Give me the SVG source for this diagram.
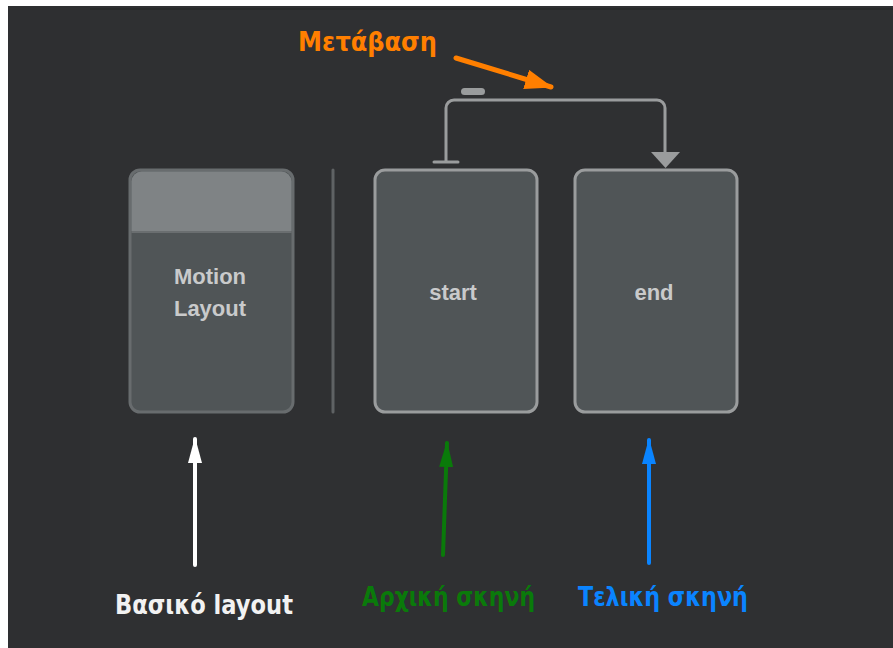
<svg xmlns="http://www.w3.org/2000/svg" width="893" height="648" viewBox="0 0 893 648">
  <style>
    .node { fill: #505557; stroke: #9a9c9d; stroke-width: 3; }
    .base { fill: #505557; stroke: #686c6e; stroke-width: 3; }
    .title { font-family: "Liberation Sans", Arial, sans-serif; font-weight: bold; font-size: 22px; fill: #c9cacb; text-anchor: middle; }
    .label { font-family: "DejaVu Sans Condensed", "DejaVu Sans", sans-serif; font-weight: bold; font-size: 26px; }
    .link { fill: none; stroke: #9a9c9d; stroke-width: 3; }
  </style>
  <defs>
    <marker id="headWhite" viewBox="0 0 26 14" refX="24" refY="7" markerWidth="26" markerHeight="14" orient="auto" markerUnits="userSpaceOnUse">
      <path d="M0,0 L26,7 L0,14 z" fill="#ffffff"/>
    </marker>
    <marker id="headGreen" viewBox="0 0 26 14" refX="24" refY="7" markerWidth="26" markerHeight="14" orient="auto" markerUnits="userSpaceOnUse">
      <path d="M0,0 L26,7 L0,14 z" fill="#0a7a0a"/>
    </marker>
    <marker id="headBlue" viewBox="0 0 26 14" refX="24" refY="7" markerWidth="26" markerHeight="14" orient="auto" markerUnits="userSpaceOnUse">
      <path d="M0,0 L26,7 L0,14 z" fill="#0a84ff"/>
    </marker>
    <marker id="headOrange" viewBox="0 0 28 20" refX="26" refY="10" markerWidth="28" markerHeight="20" orient="auto" markerUnits="userSpaceOnUse">
      <path d="M0,0 L28,10 L0,20 z" fill="#ff7f00"/>
    </marker>
  </defs>

  <!-- canvas -->
  <rect x="0" y="0" width="893" height="648" fill="#ffffff"/>
  <rect x="8" y="6" width="885" height="642" fill="#2e2f31"/>
  <rect x="90" y="8" width="803" height="640" fill="#2f3032"/>
  <rect x="90" y="8" width="803" height="2" fill="#282a2b"/>

  <!-- base layout node -->
  <g id="motion-layout">
    <rect class="base" x="130" y="170" width="163" height="242" rx="10"/>
    <path d="M131.5,231 V181.5 a10,10 0 0 1 10,-10 H281.5 a10,10 0 0 1 10,10 V231 z" fill="#7f8385"/>
    <line x1="131.5" y1="232" x2="291.5" y2="232" stroke="#6a6e70" stroke-width="2"/>
    <text class="title" x="210" y="284">Motion</text>
    <text class="title" x="210" y="316">Layout</text>
  </g>

  <!-- divider -->
  <line x1="333" y1="170" x2="333" y2="412" stroke="#5f6264" stroke-width="3" stroke-linecap="round"/>

  <g id="start">
    <rect class="node" x="375" y="170" width="162" height="242" rx="10"/>
    <text class="title" x="453" y="300">start</text>
  </g>

  <g id="end">
    <rect class="node" x="575" y="170" width="162" height="242" rx="10"/>
    <text class="title" x="654" y="300">end</text>
  </g>

  <g id="connectors">
    <!-- transition start -> end -->
    <path class="link" d="M446,162 V108 a8,8 0 0 1 8,-8 H657 a8,8 0 0 1 8,8 V154"/>
    <line x1="434" y1="162" x2="458" y2="162" stroke="#9a9c9d" stroke-width="3" stroke-linecap="round"/>
    <path d="M651,152 L680,152 L665.5,168 z" fill="#9a9c9d"/>
    <rect x="461" y="88" width="24" height="7" rx="3.5" fill="#9a9c9d"/>

    <!-- annotation arrows -->
    <line x1="456" y1="58" x2="551" y2="87" stroke="#ff7f00" stroke-width="5" stroke-linecap="round" marker-end="url(#headOrange)"/>
    <line x1="195" y1="565" x2="195" y2="439" stroke="#ffffff" stroke-width="4" stroke-linecap="round" marker-end="url(#headWhite)"/>
    <line x1="443" y1="555" x2="447" y2="443" stroke="#0a7a0a" stroke-width="4" stroke-linecap="round" marker-end="url(#headGreen)"/>
    <line x1="649" y1="563" x2="649" y2="440" stroke="#0a84ff" stroke-width="4" stroke-linecap="round" marker-end="url(#headBlue)"/>
  </g>

  <!-- annotations -->
  <text class="label" x="298" y="51" fill="#ff7f00" textLength="139" lengthAdjust="spacingAndGlyphs">Μετάβαση</text>
  <text class="label" x="115" y="614" fill="#f2f2f2" textLength="178" lengthAdjust="spacingAndGlyphs">Βασικό layout</text>
  <text class="label" x="362" y="606" fill="#0a7a0a" textLength="173" lengthAdjust="spacingAndGlyphs">Αρχική σκηνή</text>
  <text class="label" x="578" y="606" fill="#0a84ff" textLength="170" lengthAdjust="spacingAndGlyphs">Τελική σκηνή</text>
</svg>
